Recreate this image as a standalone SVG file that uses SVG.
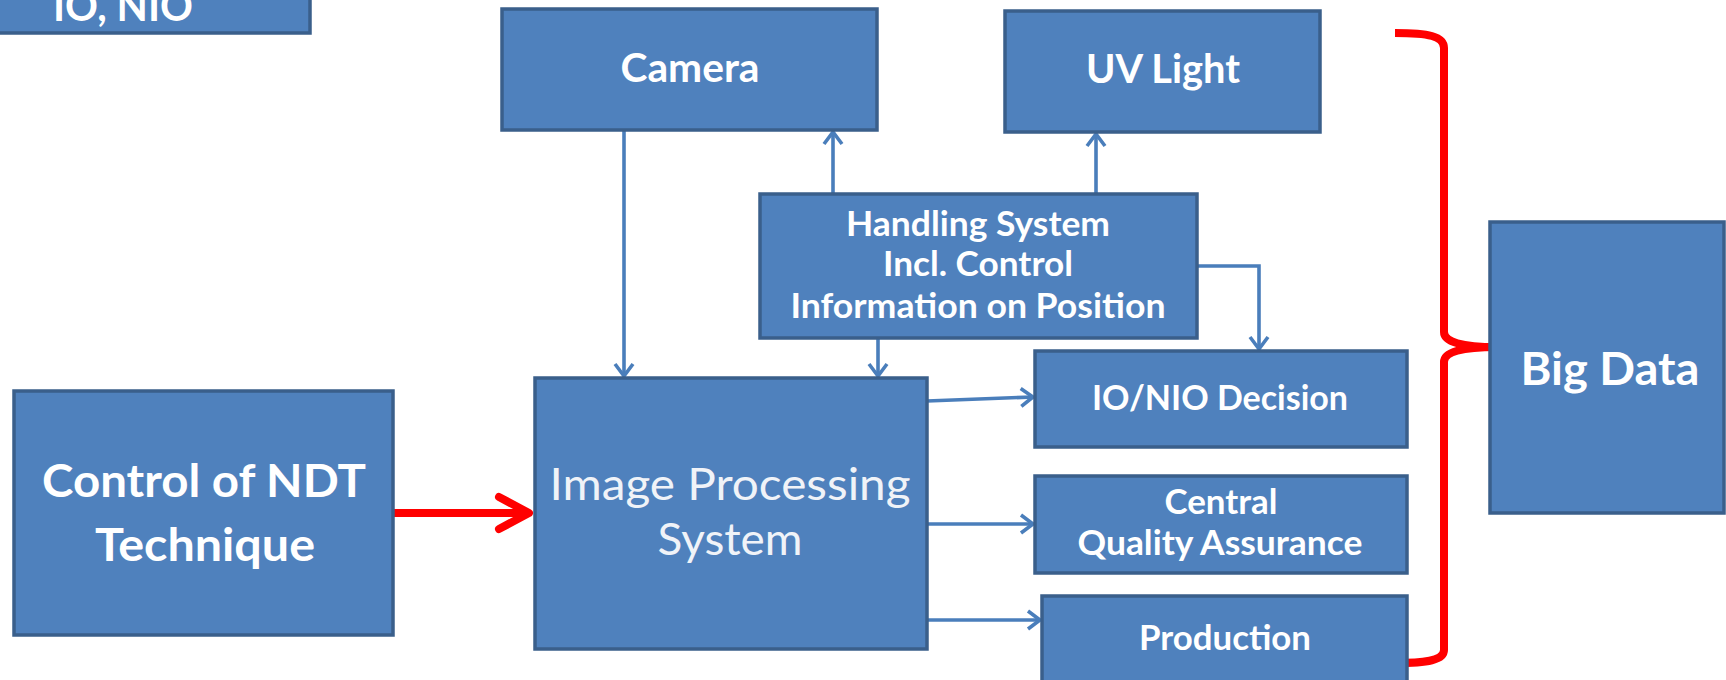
<svg xmlns="http://www.w3.org/2000/svg" width="1726" height="680" viewBox="0 0 1726 680">
<style>
.box{fill:#4f81bd;stroke:#3a5f8b;stroke-width:3.5}
.t{font-family:Lato,"Open Sans","Liberation Sans",sans-serif;font-weight:bold;fill:#ffffff;text-anchor:middle}
.r{font-family:Lato,"Open Sans","Liberation Sans",sans-serif;font-weight:normal;fill:#f0f3f8;text-anchor:middle}
.c{fill:none;stroke:#4a7ebb;stroke-width:3.6}
.red{fill:none;stroke:#ff0000;stroke-width:8}
</style>
<defs>
<marker id="ah" markerUnits="userSpaceOnUse" viewBox="0 0 16 22" refX="14" refY="11" markerWidth="16" markerHeight="22" orient="auto">
<path d="M2,2 L14,11 L2,20" fill="none" stroke="#4a7ebb" stroke-width="3.6"/>
</marker>
</defs>
<rect width="1726" height="680" fill="#ffffff"/>
<g id="connectors">
<path class="c" d="M624,130 L624,376" marker-end="url(#ah)"/>
<path class="c" d="M833,194 L833,132" marker-end="url(#ah)"/>
<path class="c" d="M1096,194 L1096,134" marker-end="url(#ah)"/>
<path class="c" d="M878,338 L878,376" marker-end="url(#ah)"/>
<path class="c" d="M1197,266 L1259,266 L1259,349" marker-end="url(#ah)"/>
<path class="c" d="M927,401 L1033,397" marker-end="url(#ah)"/>
<path class="c" d="M927,524 L1033,524" marker-end="url(#ah)"/>
<path class="c" d="M927,620 L1040,620" marker-end="url(#ah)"/>
<path class="red" d="M393,513 L526,513"/>
<path class="red" d="M499,497 L529,513 L499,529" stroke-linecap="round" stroke-linejoin="round"/>
<path class="red" d="M1395,33 C1428,33 1444,36 1444,48 L1444,332 Q1444,347 1497,347 Q1444,347 1444,362 L1444,650 C1444,660 1428,663 1395,663" stroke-width="10" stroke-linejoin="round"/>
</g>
<g id="io-nio-top">
<rect class="box" x="-10" y="-20" width="320" height="53"/>
<text class="t" x="123" y="21" font-size="42" textLength="140" lengthAdjust="spacingAndGlyphs">IO, NIO</text>
</g>
<g id="camera">
<rect class="box" x="502" y="9" width="375" height="121"/>
<text class="t" x="690" y="82" font-size="40" textLength="139" lengthAdjust="spacingAndGlyphs">Camera</text>
</g>
<g id="uv-light">
<rect class="box" x="1005" y="11" width="315" height="121"/>
<text class="t" x="1163" y="83" font-size="40" textLength="154" lengthAdjust="spacingAndGlyphs">UV Light</text>
</g>
<g id="handling">
<rect class="box" x="760" y="194" width="437" height="144"/>
<text class="t" x="978" y="236" font-size="35" textLength="264" lengthAdjust="spacingAndGlyphs">Handling System</text>
<text class="t" x="978" y="276" font-size="35" textLength="190" lengthAdjust="spacingAndGlyphs">Incl. Control</text>
<text class="t" x="978" y="318" font-size="35" textLength="375" lengthAdjust="spacingAndGlyphs">Information on Position</text>
</g>
<g id="control-ndt">
<rect class="box" x="14" y="391" width="379" height="244"/>
<text class="t" x="204" y="497" font-size="46" textLength="324" lengthAdjust="spacingAndGlyphs">Control of NDT</text>
<text class="t" x="205" y="561" font-size="46" textLength="220" lengthAdjust="spacingAndGlyphs">Technique</text>
</g>
<g id="image-processing">
<rect class="box" x="535" y="378" width="392" height="271"/>
<text class="r" x="730" y="500" font-size="45" textLength="361" lengthAdjust="spacingAndGlyphs">Image Processing</text>
<text class="r" x="730" y="555" font-size="45" textLength="145" lengthAdjust="spacingAndGlyphs">System</text>
</g>
<g id="io-nio-decision">
<rect class="box" x="1035" y="351" width="372" height="96"/>
<text class="t" x="1220" y="410" font-size="35" textLength="256" lengthAdjust="spacingAndGlyphs">IO/NIO Decision</text>
</g>
<g id="central-qa">
<rect class="box" x="1035" y="476" width="372" height="97"/>
<text class="t" x="1221" y="514" font-size="35" textLength="113" lengthAdjust="spacingAndGlyphs">Central</text>
<text class="t" x="1220" y="555" font-size="35" textLength="285" lengthAdjust="spacingAndGlyphs">Quality Assurance</text>
</g>
<g id="production">
<rect class="box" x="1042" y="596" width="365" height="104"/>
<text class="t" x="1225" y="650" font-size="35" textLength="172" lengthAdjust="spacingAndGlyphs">Production</text>
</g>
<g id="big-data">
<rect class="box" x="1490" y="222" width="234" height="291" stroke-width="4"/>
<text class="t" x="1610" y="385" font-size="46" textLength="179" lengthAdjust="spacingAndGlyphs">Big Data</text>
</g>
</svg>
